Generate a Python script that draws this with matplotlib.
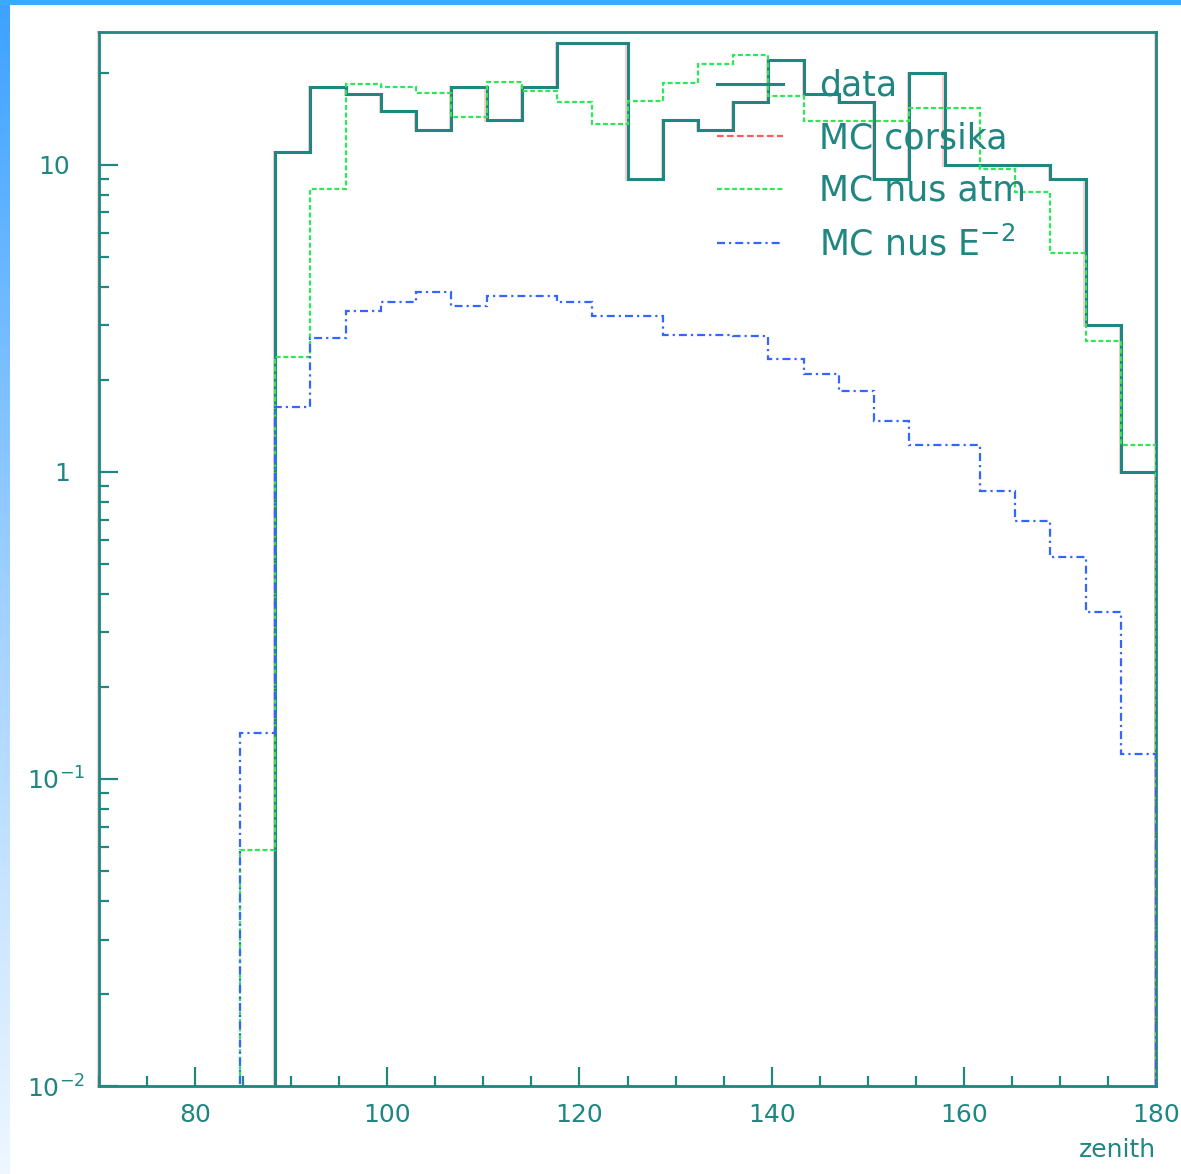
import numpy as np
import matplotlib
matplotlib.use("Agg")
import matplotlib.pyplot as plt
from matplotlib.ticker import FixedLocator, FixedFormatter, MultipleLocator
from matplotlib.colors import LinearSegmentedColormap
from matplotlib.transforms import ScaledTranslation
import matplotlib.patheffects as pe

# ---------------- data (30 bins, 70..180 in zenith) ----------------
x_min, x_max, n_bins = 70.0, 180.0, 30
data = [0, 0, 0, 0, 0, 11, 18, 17, 15, 13, 18, 14, 18, 25, 25, 9, 14, 13, 16, 22,
        17, 16, 9, 20, 10, 10, 10, 9, 3, 1]
mc_corsika = [0] * 30
mc_nus_atm = [0, 0, 0, 0, 0.0587, 2.36, 8.34, 18.4, 18.0, 17.1, 14.3, 18.6, 17.4, 16.0,
              13.6, 16.2, 18.5, 21.3, 22.8, 16.8, 13.9, 13.9, 13.9, 15.3, 15.3, 9.7,
              8.15, 5.18, 2.67, 1.22]
mc_nus_e2 = [0, 0, 0, 0, 0.1416, 1.63, 2.73, 3.35, 3.59, 3.85, 3.46, 3.73, 3.73, 3.57,
             3.21, 3.21, 2.79, 2.79, 2.78, 2.33, 2.08, 1.84, 1.46, 1.22, 1.22, 0.87,
             0.69, 0.527, 0.351, 0.1205]
labels = ["data", "MC corsika", "MC nus atm", r"MC nus E$^{-2}$"]
x_ticks_major = [80, 100, 120, 140, 160, 180]
y_ticks_major = [0.01, 0.1, 1, 10]
y_tick_labels = [r"$10^{-2}$", r"$10^{-1}$", "1", "10"]

# ---------------- style ----------------
plt.rcParams['font.family'] = ['DejaVu Sans']
plt.rcParams['mathtext.fontset'] = 'dejavusans'
teal = '#1f8682'
green = '#2ee65a'
blue = '#3366ff'
red = '#ff5a5a'
fringe = [pe.SimpleLineShadow(offset=(-0.8, 0), shadow_color='#ff8080', alpha=0.4), pe.Normal()]

W, H = 1181, 1174
fig = plt.figure(figsize=(W / 100, H / 100), dpi=100)
fig.patch.set_facecolor('white')

# slide decoration: top bar + left gradient strip
bar = fig.add_axes([0, 1 - 5 / H, 1, 5 / H])
bar.set_facecolor('#38aaff')
bar.set_xticks([]); bar.set_yticks([])
for s in bar.spines.values():
    s.set_visible(False)
strip = fig.add_axes([0, 0, 10 / W, 1 - 5 / H])
grad = np.linspace(0, 1, 256).reshape(-1, 1)
cmap = LinearSegmentedColormap.from_list('g', ['#3ea2ff', '#9fd0ff', '#eef7ff'])
strip.imshow(grad, aspect='auto', cmap=cmap, origin='upper')
strip.set_axis_off()

ax = fig.add_axes([99 / W, 1 - 1086 / H, (1156 - 99) / W, (1086 - 32) / H])
edges = np.linspace(x_min, x_max, n_bins + 1)
floor = 1e-5

def clip(v):
    v = np.asarray(v, dtype=float)
    return np.where(v > 0, v, floor)

ax.stairs(clip(data), edges, baseline=floor, color=teal, lw=2.2, label=labels[0],
          path_effects=fringe, zorder=3)
cors = np.asarray(mc_corsika, dtype=float)
ax.stairs(np.where(cors > 0, cors, np.nan), edges, baseline=None, color=red, lw=1.6,
          ls=(0, (3, 1.5)), label=labels[1], zorder=3)
ax.stairs(clip(mc_nus_atm), edges, baseline=floor, color=green, lw=1.6,
          ls=(0, (2.2, 1.2)), label=labels[2], zorder=4)
ax.stairs(clip(mc_nus_e2), edges, baseline=floor, color=blue, lw=1.6,
          ls=(0, (3.6, 1.8, 1.0, 1.8)), label=labels[3], zorder=5)

ax.set_yscale('log')
ax.set_xlim(x_min, x_max)
ax.set_ylim(0.01, 27.1)

ax.xaxis.set_major_locator(FixedLocator(x_ticks_major))
ax.xaxis.set_minor_locator(MultipleLocator(5))
ax.yaxis.set_major_locator(FixedLocator(y_ticks_major))
ax.yaxis.set_major_formatter(FixedFormatter(y_tick_labels))
minors = [m * d for d in [0.01, 0.1, 1, 10] for m in range(2, 10)]
ax.yaxis.set_minor_locator(FixedLocator(minors))
ax.yaxis.set_minor_formatter(FixedFormatter([''] * len(minors)))

ax.tick_params(which='both', direction='in', top=False, right=False, color=teal, width=1.6,
               labelcolor=teal, labelsize=18)
ax.tick_params(which='major', length=14)
ax.tick_params(which='minor', length=7)
ax.tick_params(axis='x', pad=12)
ax.tick_params(axis='y', pad=10)
for s in ax.spines.values():
    s.set_color(teal)
    s.set_linewidth(2.0)
    s.set_path_effects(fringe)

# plain labels ("1", "10") sit further left than the 10^n ones, as in ROOT
for tick, lab in zip(ax.yaxis.get_major_ticks(), y_tick_labels):
    if '$' not in lab:
        tick.label1.set_transform(tick.label1.get_transform()
                                  + ScaledTranslation(-0.15, 0, fig.dpi_scale_trans))

ax.set_xlabel('zenith', loc='right', fontsize=18, color=teal, labelpad=8)

leg = ax.legend(loc='upper left', bbox_to_anchor=((717 - 99) / 1057, (1086 - 69) / 1054),
                frameon=False, fontsize=25, handlelength=1.9, handletextpad=1.05,
                labelspacing=0.53, borderpad=0, borderaxespad=0)
for t in leg.get_texts():
    t.set_color(teal)

fig.savefig('out.png', dpi=100, facecolor='white')
